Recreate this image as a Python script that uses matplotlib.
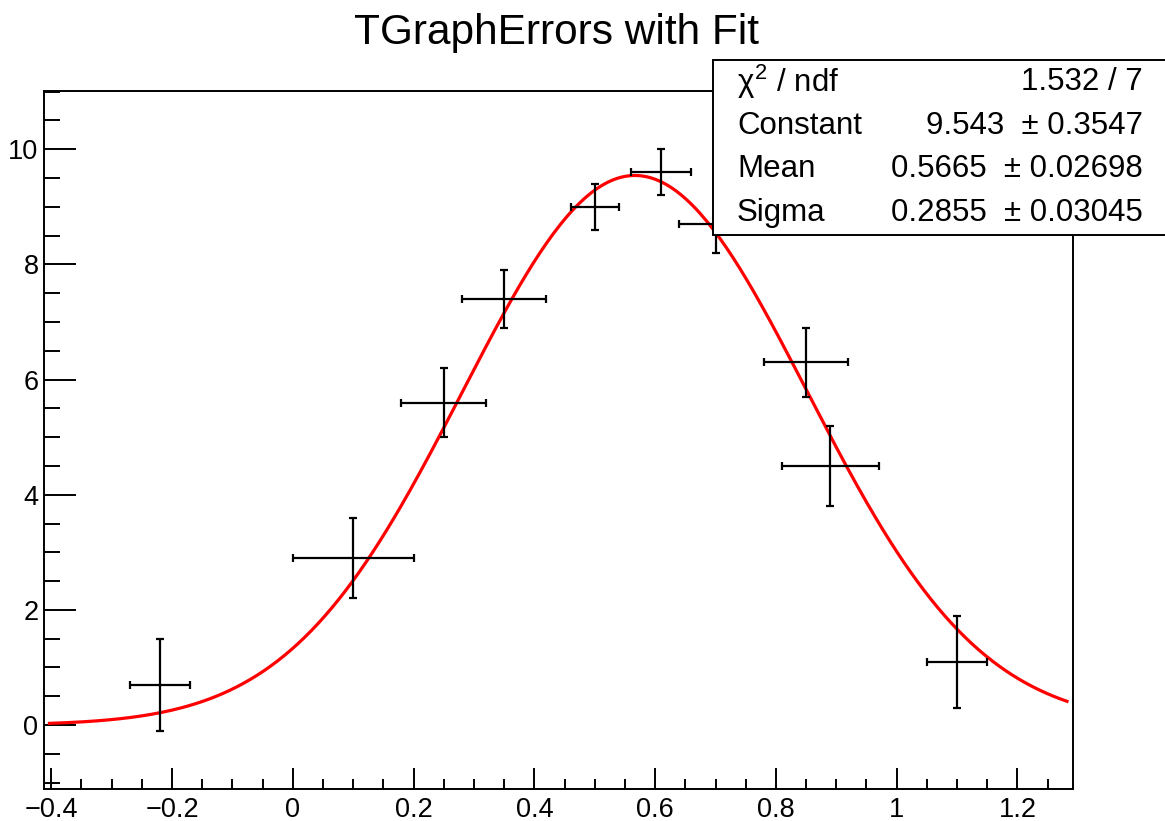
import numpy as np
import matplotlib
matplotlib.use("Agg")
import matplotlib.pyplot as plt
from matplotlib.patches import Rectangle
from matplotlib.ticker import MultipleLocator

# === Datos ===
x = [-0.22, 0.10, 0.25, 0.35, 0.50, 0.61, 0.70, 0.85, 0.89, 1.10]
y = [0.7, 2.9, 5.6, 7.4, 9.0, 9.6, 8.7, 6.3, 4.5, 1.1]
ex = [0.05, 0.10, 0.07, 0.07, 0.04, 0.05, 0.06, 0.07, 0.08, 0.05]
ey = [0.8, 0.7, 0.6, 0.5, 0.4, 0.4, 0.5, 0.6, 0.7, 0.8]

# parámetros del ajuste gaussiano (caja de estadísticas)
chi2, ndf = 1.532, 7
const, const_err = 9.543, 0.3547
mean, mean_err = 0.5665, 0.02698
sigma, sigma_err = 0.2855, 0.03045
fit_range = (-0.403, 1.282)

plt.rcParams["font.family"] = ["Liberation Sans", "DejaVu Sans"]
plt.rcParams["mathtext.fontset"] = "custom"
plt.rcParams["mathtext.rm"] = "Liberation Sans"
plt.rcParams["mathtext.it"] = "Liberation Sans"

W, H = 1165, 821
fig = plt.figure(figsize=(W / 100, H / 100), dpi=100)
ax = fig.add_axes([44 / W, 1 - 789 / H, (1073 - 44) / W, (789 - 91) / H])

# === Puntos con errores ===
ax.errorbar(x, y, xerr=ex, yerr=ey, fmt="none", ecolor="black",
            elinewidth=1.6, capsize=3.2, capthick=1.6, zorder=3)

# === Curva del ajuste ===
xf = np.linspace(fit_range[0], fit_range[1], 300)
yf = const * np.exp(-0.5 * ((xf - mean) / sigma) ** 2)
ax.plot(xf, yf, color="#ff0000", linewidth=2.3, zorder=2)

# rango tipo ROOT: 10% de margen
xlo = min(np.array(x) - np.array(ex)); xhi = max(np.array(x) + np.array(ex))
ylo = min(np.array(y) - np.array(ey)); yhi = max(np.array(y) + np.array(ey))
ax.set_xlim(xlo - 0.1 * (xhi - xlo), xhi + 0.1 * (xhi - xlo))
ax.set_ylim(ylo - 0.1 * (yhi - ylo), yhi + 0.1 * (yhi - ylo))

ax.xaxis.set_major_locator(MultipleLocator(0.2))
ax.xaxis.set_minor_locator(MultipleLocator(0.05))
ax.yaxis.set_major_locator(MultipleLocator(2))
ax.yaxis.set_minor_locator(MultipleLocator(0.5))
ax.xaxis.set_major_formatter(matplotlib.ticker.FuncFormatter(
    lambda v, p: ("%g" % round(v, 2)).replace("-", "\u2212")))

ax.tick_params(axis="both", which="both", direction="in", top=False, right=False,
               width=1.4, labelsize=19.5)
ax.tick_params(axis="y", which="major", length=23, pad=4)
ax.tick_params(axis="y", which="minor", length=11.5)
ax.tick_params(axis="x", which="major", length=15, pad=6)
ax.tick_params(axis="x", which="minor", length=7.5)
for s in ax.spines.values():
    s.set_linewidth(1.4)

fig.text(556 / W, 1 - 33 / H, "TGraphErrors with Fit", ha="center", va="center",
         fontsize=30.5)

# === Caja de estadísticas ===
bx0, by0, by1 = 713, 60, 235
fig.patches.append(Rectangle((bx0 / W, 1 - by1 / H), (W + 20 - bx0) / W,
                             (by1 - by0) / H, transform=fig.transFigure,
                             facecolor="white", edgecolor="black", linewidth=1.4,
                             clip_on=False, zorder=5))
rows = [
    (r"$\chi^{2}$ / ndf", "%.4g / %d" % (chi2, ndf)),
    ("Constant", "%.4g  \u00b1 %.4g" % (const, const_err)),
    ("Mean", "%.4g  \u00b1 %.4g" % (mean, mean_err)),
    ("Sigma", "%.4g  \u00b1 %.4g" % (sigma, sigma_err)),
]
rh = (by1 - by0) / len(rows)
for i, (lab, val) in enumerate(rows):
    yc = 1 - (by0 + rh * (i + 0.5)) / H
    fig.text(737 / W, yc, lab, ha="left", va="center", fontsize=22.5, zorder=6)
    fig.text(1143 / W, yc, val, ha="right", va="center", fontsize=22.5, zorder=6)

fig.savefig("out.png", dpi=100)
